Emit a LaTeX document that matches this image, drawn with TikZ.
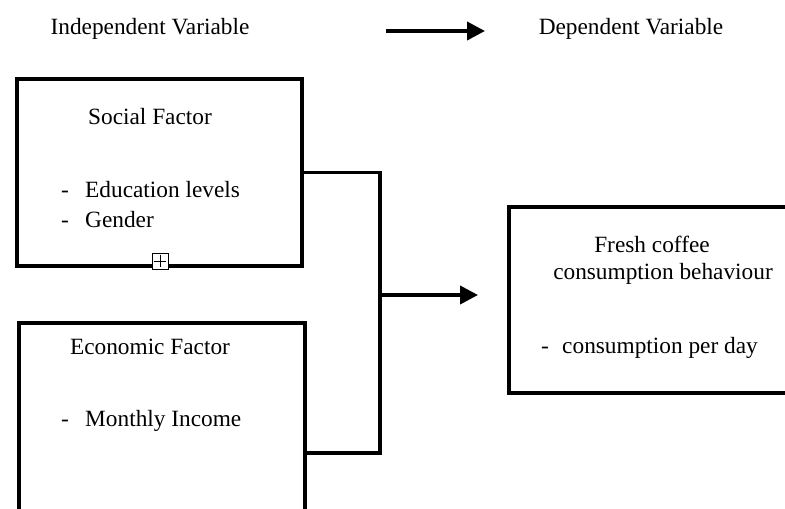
\documentclass[tikz,border=0pt]{standalone}
\usepackage{fontspec}
\setmainfont{Liberation Serif}
\usetikzlibrary{arrows.meta, positioning}

\begin{document}
\begin{tikzpicture}[x=0.03cm, y=-0.03cm,
  box/.style={draw, line width=3.3pt, inner sep=0pt},
  txt/.style={font=\fontsize{19.9}{24}\selectfont, anchor=base, inner sep=0pt},
  itm/.style={txt, anchor=base west},
  arr/.style={line width=3.3pt, -{Triangle[length=0.54cm, width=0.54cm]}},
]
  \useasboundingbox (0,0) rectangle (785,509);
  \clip (0,0) rectangle (785,509);
  % Legend
  \node[txt] (indep) at (150,35) {Independent Variable};
  \node[txt] (dep)   at (631,35) {Dependent Variable};
  \coordinate (la) at (386,31);
  \coordinate (lb) at (485,31);
  \draw[arr] (la) -- (lb);
  % Boxes
  \node[box, minimum width=8.55cm, minimum height=5.61cm] (social)  at (159.5,172.5) {};
  \node[box, minimum width=8.58cm, minimum height=7.11cm] (econ)    at (162,441.5) {};
  \node[box, minimum width=9.63cm, minimum height=5.58cm] (outcome) at (669.5,300) {};
  \node[draw, fill=white, line width=0.6pt, minimum size=0.48cm, inner sep=0pt] (anchorbox) at (160,261) {};
  \draw[line width=0.6pt] ([yshift=-0.06cm]anchorbox.north) -- ([yshift=0.06cm]anchorbox.south);
  \draw[line width=0.6pt] ([xshift=0.06cm]anchorbox.west) -- ([xshift=-0.06cm]anchorbox.east);
  % Social factor
  \node[txt] (soctitle) at (150,125) {Social Factor};
  \node[txt] (d1) at (65,197) {-};
  \node[itm] (edu) at (85,197) {Education levels};
  \node[txt] (d2) at (65,227) {-};
  \node[itm] (gen) at (85,227) {Gender};
  % Economic factor
  \node[txt] (ectitle) at (150,354) {Economic Factor};
  \node[txt] (d3) at (65,426) {-};
  \node[itm] (inc) at (85,426) {Monthly Income};
  % Outcome
  \node[txt] (outtitle) at (652,252) {Fresh coffee};
  \node[txt] (outsub)   at (663,279) {consumption behaviour};
  \node[txt] (d4) at (545,353) {-};
  \node[itm] (perday) at (562,353) {consumption per day};
  % Connectors
  \coordinate (jtop) at (380,172.5);
  \coordinate (jbot) at (380,453);
  \coordinate (jmid) at (380,295);
  \coordinate (tip)  at (478,295);
  \draw[line width=3.3pt, line join=miter] (social.east) -- (jtop) -- (jbot) -- (econ.east |- jbot);
  \draw[arr] (jmid) -- (tip);
\end{tikzpicture}
\end{document}
